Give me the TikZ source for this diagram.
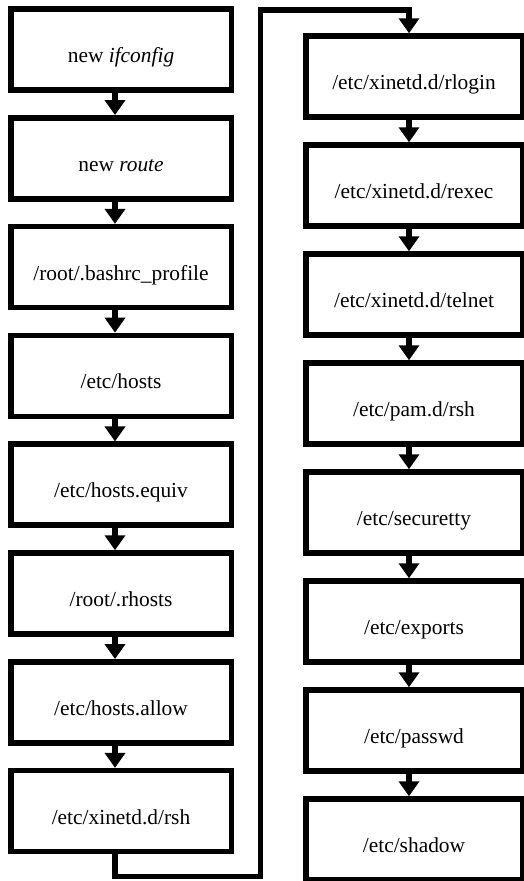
\documentclass[tikz,border=0pt]{standalone}
\usepackage{fontspec}
\setmainfont{Liberation Serif}
\usetikzlibrary{arrows.meta}
\begin{document}
\begin{tikzpicture}[x=1pt,y=1pt,
  stepbox/.style={draw, line width=5.5pt, inner sep=0pt, text height=26pt, text depth=0pt,
    font=\fontsize{21.4}{24}\selectfont, minimum height=81pt},
  leftbox/.style={stepbox, minimum width=220.5pt},
  rightbox/.style={stepbox, minimum width=216.5pt},
  flowline/.style={line width=5.5pt},
  flow/.style={flowline, -{Triangle[width=20pt,length=15pt]}},
]
\useasboundingbox (0,0) rectangle (523,-881);

% left column
\node[leftbox] (b1) at (121,-49.5)  {new \textit{ifconfig}};
\node[leftbox] (b2) at (121,-158.3) {new \textit{route}};
\node[leftbox] (b3) at (121,-267.1) {/root/.bashrc\_profile};
\node[leftbox] (b4) at (121,-375.9) {/etc/hosts};
\node[leftbox] (b5) at (121,-484.7) {/etc/hosts.equiv};
\node[leftbox] (b6) at (121,-593.5) {/root/.rhosts};
\node[leftbox] (b7) at (121,-702.3) {/etc/hosts.allow};
\node[leftbox] (b8) at (121,-811.1) {/etc/xinetd.d/rsh};

% right column
\node[rightbox] (b9)  at (414,-76.5)  {/etc/xinetd.d/rlogin};
\node[rightbox] (b10) at (414,-185.5) {/etc/xinetd.d/rexec};
\node[rightbox] (b11) at (414,-294.5) {/etc/xinetd.d/telnet};
\node[rightbox] (b12) at (414,-403.5) {/etc/pam.d/rsh};
\node[rightbox] (b13) at (414,-512.5) {/etc/securetty};
\node[rightbox] (b14) at (414,-621.5) {/etc/exports};
\node[rightbox] (b15) at (414,-730.5) {/etc/passwd};
\node[rightbox] (b16) at (414,-839.5) {/etc/shadow};

% arrows within each column
\foreach \a/\b in {1/2,2/3,3/4,4/5,5/6,6/7,7/8}
  \draw[flow] ([xshift=-6pt]b\a.south) -- ([xshift=-6pt]b\b.north);
\foreach \a/\b in {9/10,10/11,11/12,12/13,13/14,14/15,15/16}
  \draw[flow] ([xshift=-5pt]b\a.south) -- ([xshift=-5pt]b\b.north);

% link from the bottom of the left column to the top of the right column
\coordinate (lowturn)  at (260.5,-876.5);
\coordinate (highturn) at (260.5,-10);
\draw[flow] ([xshift=-6pt]b8.south) |- (lowturn) -- (highturn) -| ([xshift=-5pt]b9.north);
\end{tikzpicture}
\end{document}
